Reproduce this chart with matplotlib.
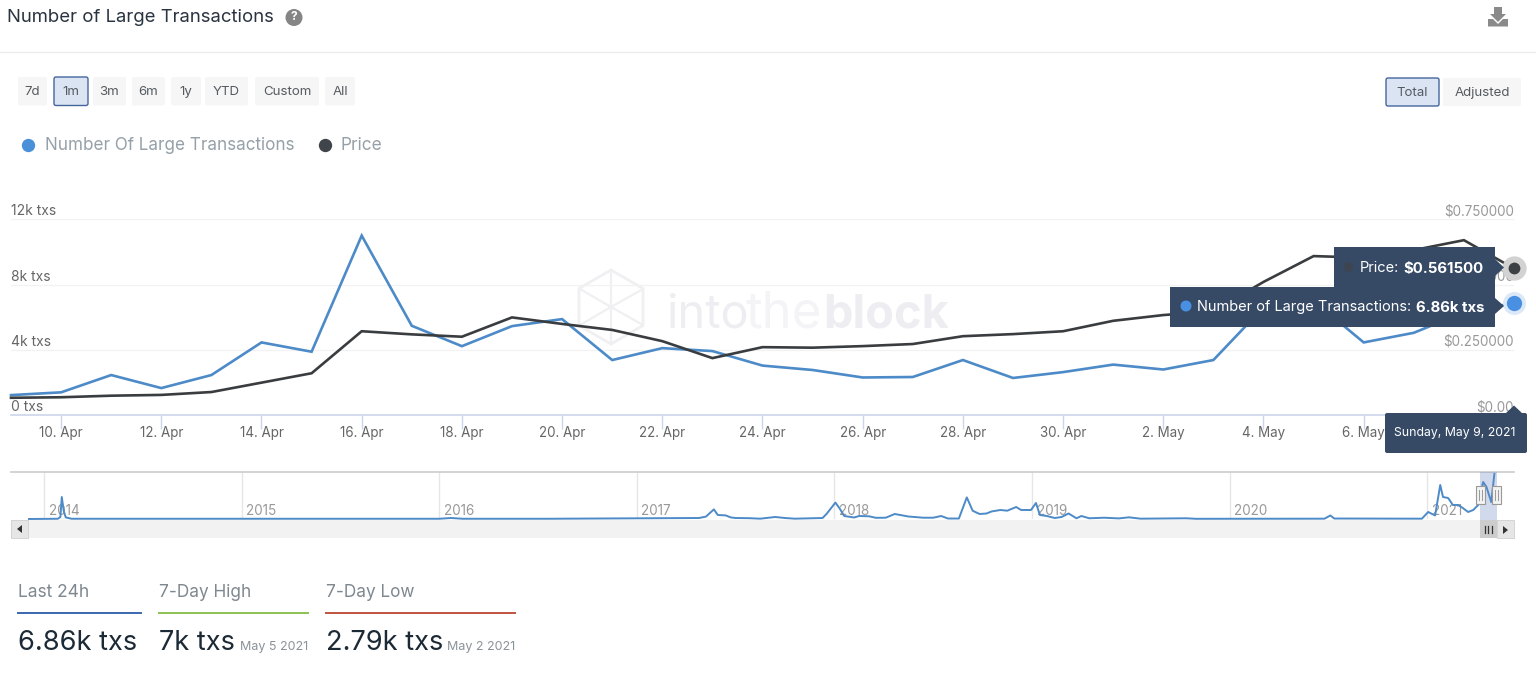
import numpy as np
import matplotlib
matplotlib.use("Agg")
import matplotlib.pyplot as plt
import matplotlib.dates as mdates
from matplotlib.patches import Rectangle, FancyBboxPatch, Polygon, Circle, RegularPolygon
from matplotlib.transforms import ScaledTranslation

plt.rcParams['font.family'] = ['Inter', 'DejaVu Sans']

# ---------- data ----------
dates = np.arange(np.datetime64('2021-04-09'), np.datetime64('2021-05-10'), np.timedelta64(1, 'D'))
large_txs_k = [1.22, 1.39, 2.45, 1.65, 2.45, 4.45, 3.88, 11.0, 5.47, 4.22, 5.45, 5.88, 3.37, 4.10, 3.92, 3.03,
               2.76, 2.30, 2.33, 3.37, 2.27, 2.63, 3.09, 2.79, 3.37, 6.60, 7.00, 4.45, 5.04, 6.30, 6.86]
price_usd = [0.066, 0.068, 0.074, 0.077, 0.088, 0.124, 0.160, 0.321, 0.309, 0.300, 0.374, 0.349, 0.326, 0.283,
             0.218, 0.260, 0.258, 0.264, 0.272, 0.302, 0.310, 0.321, 0.361, 0.383, 0.398, 0.510, 0.609, 0.603,
             0.632, 0.670, 0.5615]
left_ticks = [0, 4, 8, 12]
left_labels = ['0 txs', '4k txs', '8k txs', '12k txs']
right_ticks = [0, 0.25, 0.5, 0.75]
right_labels = ['$0.00', '$0.250000', '$0.500000', '$0.750000']

nav_years = [2013.924, 2014.07, 2014.083, 2014.09, 2014.10, 2014.11, 2014.14, 2014.35, 2014.75, 2016.0, 2016.06,
             2016.12, 2016.55, 2017.315, 2017.35, 2017.39, 2017.41, 2017.45, 2017.475, 2017.50, 2017.57, 2017.625,
             2017.70, 2017.75, 2017.80, 2017.94, 2017.96, 2018.005, 2018.025, 2018.05, 2018.10, 2018.125, 2018.175,
             2018.21, 2018.26, 2018.305, 2018.375, 2018.45, 2018.50, 2018.54, 2018.575, 2018.63, 2018.67, 2018.70,
             2018.735, 2018.77, 2018.795, 2018.84, 2018.875, 2018.92, 2018.945, 2018.995, 2019.02, 2019.04,
             2019.075, 2019.115, 2019.15, 2019.185, 2019.225, 2019.25, 2019.29, 2019.365, 2019.44, 2019.49,
             2019.55, 2019.78, 2019.83, 2020.48, 2020.51, 2020.53, 2020.973, 2021.005, 2021.04, 2021.066, 2021.08,
             2021.106, 2021.13, 2021.157, 2021.18, 2021.207, 2021.233, 2021.258, 2021.283, 2021.30, 2021.324, 2021.34]
nav_vals = [0, .06, .5, 5.5, 2, .4, .06, .06, .06, .06, .25,
            .06, .06, .25, .6, 2.4, 1, .9, .4, .25, .2, .08,
            .5, .25, .08, .25, 1.25, 4.1, 2.75, .75, .38, .75, .68,
            .3, .32, 1.25, .62, .32, .32, .75, .12, .12, 5.4, 2.05,
            1.25, 1.38, 1.88, 2.25, 2.08, 3.0, 2.25, 2.25, 4.0, 1.0,
            .75, .25, .5, 1.38, .18, .75, .18, .32, .15, .42,
            .08, .18, .05, .08, .88, .12, .08, 1.75, .88, 8.5, 5.5,
            5.25, 3.5, 3.5, 2.75, 1.75, 2.25, 3.5, 9.25, 8.0, 4.25, 11.25]
nav_ticks = [2014, 2015, 2016, 2017, 2018, 2019, 2020, 2021]

BLUE = '#4d8ac8'
DARK = '#3a3d40'
NAVY = '#364a66'
W, H = 1536, 695


def px(s):
    return s * 0.72


fig = plt.figure(figsize=(W / 100, H / 100), dpi=100, facecolor='white')


def axes_px(x0, y0, x1, y1, **kw):
    return fig.add_axes([x0 / W, 1 - y1 / H, (x1 - x0) / W, (y1 - y0) / H], **kw)


# ---------- background overlay (watermark) ----------
bg = fig.add_axes([0, 0, 1, 1], zorder=-1)
bg.set_xlim(0, W)
bg.set_ylim(H, 0)
bg.axis('off')
wm = '#f0f0f3'
bg.add_patch(RegularPolygon((611, 307), 6, radius=37, fill=False, ec=wm, lw=2))
for a, b in [((611, 270), (611, 307)), ((580, 325), (611, 307)), ((643, 325), (611, 307)),
             ((580, 289), (611, 307)), ((643, 289), (611, 307)), ((611, 344), (611, 307))]:
    bg.plot([a[0], b[0]], [a[1], b[1]], color=wm, lw=1.6)
bg.text(666, 328, 'into', fontsize=px(47), color='#eeeef2', va='baseline', ha='left')
bg.text(745, 328, 'the', fontsize=px(51), color='#f4f4f7', va='baseline', ha='left')
bg.text(823, 328, 'block', fontsize=px(47), color='#eeeef2', va='baseline', ha='left', fontweight='bold')

# ---------- main chart ----------
ax = axes_px(11, 219.3, 1514, 415)
ax.patch.set_visible(False)
ax.plot(dates, large_txs_k, color=BLUE, lw=1.9, label='Number Of Large Transactions', zorder=3, clip_on=False,
        solid_joinstyle='miter')
ax.set_xlim(dates[0], dates[-1])
ax.set_ylim(0, 12)
for s in ['top', 'left', 'right']:
    ax.spines[s].set_visible(False)
ax.spines['bottom'].set_color('#ccd6eb')
ax.spines['bottom'].set_linewidth(1.2)
ax.grid(axis='y', color='#f2f2f2', lw=0.9)
ax.set_axisbelow(True)
ax.set_xticks(dates[1:-1:2])
ax.set_xticklabels([mdates.num2date(mdates.date2num(d)).strftime('%-d. %b') for d in dates[1:-1:2]])
ax.tick_params(axis='x', length=10, color='#ccd6eb', width=1, labelsize=px(13.4), labelcolor='#666666', pad=-2)
ax.set_yticks(left_ticks)
ax.set_yticklabels(left_labels)
ax.tick_params(axis='y', length=0, pad=0, labelsize=px(13.9), labelcolor='#666666')
up = ScaledTranslation(0, 0.6 / 72, fig.dpi_scale_trans)
for lab in ax.get_yticklabels():
    lab.set_ha('left')
    lab.set_va('bottom')
    lab.set_transform(lab.get_transform() + up)

axr = ax.twinx()
axr.patch.set_visible(False)
axr.plot(dates, price_usd, color=DARK, lw=1.9, label='Price', zorder=3, clip_on=False, solid_joinstyle='miter')
axr.set_ylim(0, 0.75)
for s in axr.spines.values():
    s.set_visible(False)
axr.set_yticks(right_ticks)
axr.set_yticklabels(right_labels)
axr.tick_params(axis='y', length=0, pad=0, labelsize=px(13.4), labelcolor='#999999')
for lab in axr.get_yticklabels():
    lab.set_ha('right')
    lab.set_va('bottom')
    lab.set_transform(lab.get_transform() + up)

# hover markers on the last points
ax.plot(dates[-1], large_txs_k[-1], 'o', ms=16.5, mfc='#dbe8f7', mec='none', clip_on=False, zorder=4)
ax.plot(dates[-1], large_txs_k[-1], 'o', ms=11, mfc='#4a90e2', mec='none', clip_on=False, zorder=5)
axr.plot(dates[-1], price_usd[-1], 'o', ms=17.5, mfc='#d2d2d2', mec='none', clip_on=False, zorder=4)
axr.plot(dates[-1], price_usd[-1], 'o', ms=8.5, mfc='#3d4146', mec='none', clip_on=False, zorder=5)

# ---------- navigator ----------
nav = axes_px(11, 471.5, 1514, 519)
nav.patch.set_visible(False)
nav.plot(nav_years, nav_vals, color=BLUE, lw=1.4, clip_on=False, zorder=3)
nav.set_xlim(2014 + (11 - 44) / 197.6, 2014 + (1514 - 44) / 197.6)
nav.set_ylim(0, 47.5 / 4)
for s in ['left', 'right', 'bottom']:
    nav.spines[s].set_visible(False)
nav.spines['top'].set_color('#cccccc')
nav.spines['top'].set_linewidth(1.2)
nav.set_yticks([])
nav.set_xticks(nav_ticks)
nav.set_xticklabels([])
nav.tick_params(axis='x', length=0)
nav.grid(axis='x', color='#e6e6e6', lw=1)
nav.set_axisbelow(True)
for y in nav_ticks:
    nav.annotate(str(y), (y, 0), xytext=(4.5 * 0.72, 0.8), textcoords='offset points', fontsize=px(13.5),
                 color='#999999', ha='left', va='bottom', zorder=2)

# ---------- page chrome overlay ----------
ui = fig.add_axes([0, 0, 1, 1], zorder=10)
ui.set_xlim(0, W)
ui.set_ylim(H, 0)
ui.axis('off')
ui.patch.set_visible(False)

ui.text(7, 22, 'Number of Large Transactions', fontsize=px(18.5), color='#2a3340', va='baseline', ha='left')
ui.add_patch(Circle((294, 17.5), 8.5, fc='#858585', ec='none'))
ui.text(294, 17.5, '?', fontsize=px(12), color='white', fontweight='bold', va='center', ha='center')
ui.add_patch(Polygon([[1494, 7], [1502, 7], [1502, 14], [1506, 14], [1498, 22], [1490, 14], [1494, 14]],
                     closed=True, fc='#8a8a8a', ec='none'))
ui.add_patch(Polygon([[1488, 19], [1493, 19], [1498, 24], [1503, 19], [1508, 19], [1508, 26.5], [1488, 26.5]],
                     closed=True, fc='#8a8a8a', ec='none'))
ui.plot([0, W], [51.5, 51.5], color='#ececec', lw=1)


def button(x0, x1, y0, y1, label, sel=False, fs=13.3):
    if sel:
        p = FancyBboxPatch((x0, y0), x1 - x0, y1 - y0, boxstyle='round,pad=0,rounding_size=2',
                           fc='#dbe4f3', ec='#44669c', lw=1.0)
    else:
        p = FancyBboxPatch((x0, y0), x1 - x0, y1 - y0, boxstyle='round,pad=0,rounding_size=2',
                           fc='#f6f6f6', ec='none')
    ui.add_patch(p)
    ui.text((x0 + x1) / 2, (y0 + y1) / 2 + 1, label, fontsize=px(fs), color='#555b61', ha='center', va='center')


for x0, x1, lab in [(18, 47, '7d'), (54, 88, '1m'), (93, 126, '3m'), (132, 165, '6m'), (171, 201, '1y'),
                    (205, 248, 'YTD'), (255, 319, 'Custom'), (325, 355, 'All')]:
    button(x0, x1, 77, 105.5, lab, sel=lab == '1m')
button(1386, 1439, 78, 106, 'Total', sel=True)
button(1443, 1521, 78, 106, 'Adjusted')

# legend
ui.plot([28], [145], 'o', ms=9.6, mfc='#4a90d9', mec='none')
ui.text(45, 150.5, 'Number Of Large Transactions', fontsize=px(17.05), color='#95a0a8', va='baseline', ha='left')
ui.plot([324.5], [145], 'o', ms=9.6, mfc='#40454b', mec='none')
ui.text(341, 150.5, 'Price', fontsize=px(17.3), color='#95a0a8', va='baseline', ha='left')

# scrollbar
ui.add_patch(Rectangle((11, 520), 1503, 17.5, fc='#f2f2f2', ec='none'))
ui.add_patch(Rectangle((11, 520), 17, 17.5, fc='#e6e6e6', ec='#d0d0d0', lw=0.6))
ui.add_patch(Polygon([[22, 525], [22, 533], [17, 529]], closed=True, fc='#333333', ec='none'))
ui.add_patch(Rectangle((1497, 520), 17, 17.5, fc='#e6e6e6', ec='#d0d0d0', lw=0.6))
ui.add_patch(Polygon([[1503, 526], [1503, 534], [1508, 530]], closed=True, fc='#333333', ec='none'))
ui.add_patch(Rectangle((1479.5, 520), 17.5, 17.5, fc='#cccccc', ec='none'))
for x in [1484.5, 1488, 1491.5]:
    ui.plot([x, x], [525.5, 532.5], color='#333333', lw=0.9)
# selected range in navigator
ui.add_patch(Rectangle((1479.5, 472), 17.5, 47.5, fc='#6685c2', alpha=0.3, ec='none'))
for x0 in [1475.5, 1491.5]:
    ui.add_patch(Rectangle((x0, 486), 9.5, 18, fc='#f2f2f2', ec='#999999', lw=0.8))
    for dx in [3.5, 6]:
        ui.plot([x0 + dx, x0 + dx], [490, 500], color='#999999', lw=0.7)

# tooltips
ui.add_patch(Rectangle((1333.5, 247), 161.5, 40, fc=NAVY, ec='none'))
ui.add_patch(Polygon([[1495, 259], [1504, 267.5], [1495, 276]], closed=True, fc=NAVY, ec='none'))
ui.add_patch(Circle((1348.5, 267), 5, fc='#3d4552', ec='none'))
ui.text(1360, 272.5, 'Price:', fontsize=px(14.6), color='white', va='baseline', ha='left')
ui.text(1484, 272.5, '$0.561500', fontsize=px(15.0), color='white', va='baseline', ha='right', fontweight='bold')

ui.add_patch(Rectangle((1170, 287), 325, 39.5, fc=NAVY, ec='none'))
ui.add_patch(Polygon([[1495, 298], [1504, 306], [1495, 314]], closed=True, fc=NAVY, ec='none'))
ui.add_patch(Circle((1186, 306), 5.5, fc='#4a90e2', ec='none'))
ui.text(1197, 311.5, 'Number of Large Transactions:', fontsize=px(14.6), color='white', va='baseline', ha='left')
ui.text(1484, 311.5, '6.86k txs', fontsize=px(14.9), color='white', va='baseline', ha='right', fontweight='bold')

ui.add_patch(FancyBboxPatch((1385, 413), 142, 40, boxstyle='round,pad=0,rounding_size=2', fc=NAVY, ec='none'))
ui.add_patch(Polygon([[1505, 414], [1514, 405.5], [1523, 414]], closed=True, fc=NAVY, ec='none'))
ui.text(1455, 433, 'Sunday, May 9, 2021', fontsize=px(12.3), color='white', va='center', ha='center')

# stats
GREY = '#7f888f'
INK = '#1c2a36'
ui.text(17.5, 597, 'Last 24h', fontsize=px(17.4), color=GREY, va='baseline', ha='left')
ui.text(159, 597, '7-Day High', fontsize=px(17.2), color=GREY, va='baseline', ha='left')
ui.text(326, 597, '7-Day Low', fontsize=px(17.2), color=GREY, va='baseline', ha='left')
ui.plot([17.5, 141], [612.5, 612.5], color='#3a67b0', lw=1.4)
ui.plot([159, 308], [612.5, 612.5], color='#8cc152', lw=1.4)
ui.plot([326, 515], [612.5, 612.5], color='#c0533f', lw=1.4)
ui.text(17.5, 650, '6.86k txs', fontsize=px(27.2), color=INK, va='baseline', ha='left')
ui.text(159, 650, '7k txs', fontsize=px(27.2), color=INK, va='baseline', ha='left')
ui.text(326, 650, '2.79k txs', fontsize=px(27.2), color=INK, va='baseline', ha='left')
ui.text(240, 650, 'May 5 2021', fontsize=px(12.5), color='#8a9299', va='baseline', ha='left')
ui.text(447, 650, 'May 2 2021', fontsize=px(12.5), color='#8a9299', va='baseline', ha='left')

fig.savefig('out.png', dpi=100, facecolor='white')
